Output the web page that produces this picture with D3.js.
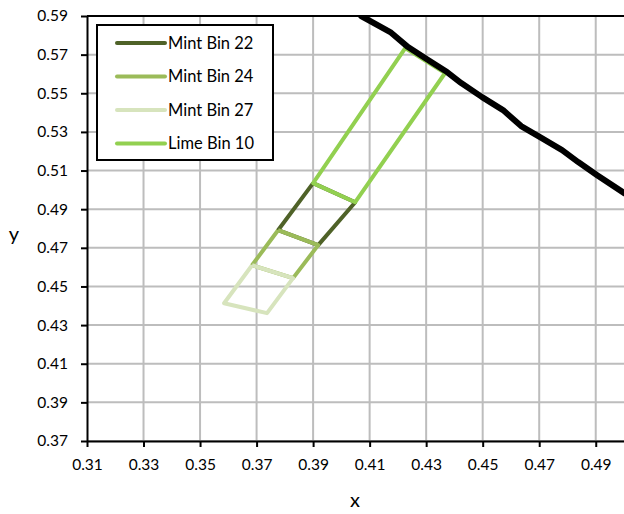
<!DOCTYPE html>
<html><head><meta charset="utf-8">
<script src="https://cdn.jsdelivr.net/npm/d3@7"></script>
<style>body{margin:0;background:#fff}svg{display:block}text{font-family:Lato,"Open Sans",sans-serif}</style>
</head><body><svg id="c" width="624" height="514"></svg>
<script>
const xTicks=[0.31,0.33,0.35,0.37,0.39,0.41,0.43,0.45,0.47,0.49];
const yTicks=[0.37,0.39,0.41,0.43,0.45,0.47,0.49,0.51,0.53,0.55,0.57,0.59];
const seriesNames=["Mint Bin 22","Mint Bin 24","Mint Bin 27","Lime Bin 10"];
const seriesColors=["#4F6228","#9BBB59","#D7E4BD","#92D050"];
const mint22=[[0.3900,0.5035],[0.4049,0.4936],[0.3918,0.4714],[0.3776,0.4791],[0.3900,0.5035]];
const mint24=[[0.3776,0.4791],[0.3918,0.4714],[0.3829,0.4543],[0.3684,0.4610],[0.3776,0.4791]];
const mint27=[[0.3684,0.4610],[0.3829,0.4543],[0.3737,0.4362],[0.3585,0.4413],[0.3684,0.4610]];
const lime10=[[0.4226,0.5734],[0.3900,0.5035],[0.4049,0.4936],[0.4367,0.5605],[0.4226,0.5734]];
const boundary=[[0.4070,0.5900],[0.4173,0.5817],[0.4236,0.5739],[0.4307,0.5672],[0.4374,0.5610],[0.4424,0.5553],[0.4498,0.5480],[0.4572,0.5413],[0.4636,0.5330],[0.4703,0.5273],[0.4781,0.5206],[0.4838,0.5144],[0.4905,0.5076],[0.5001,0.4983]];
const seriesData=[mint22,mint24,mint27,lime10];

const L=87,R=624,T=16,B=441;
const x=d3.scaleLinear().domain([0.31,0.50]).range([L,R]);
const y=d3.scaleLinear().domain([0.37,0.59]).range([B,T]);
const svg=d3.select("#c");
const fmt=d3.format(".2f");

svg.append("g").selectAll("line").data(xTicks.slice(1)).join("line")
  .attr("x1",d=>x(d)).attr("x2",d=>x(d)).attr("y1",T).attr("y2",B)
  .attr("stroke","#BDBDBD").attr("stroke-width",2);
svg.append("g").selectAll("line").data(yTicks.slice(0,-1)).join("line")
  .attr("x1",L).attr("x2",R).attr("y1",d=>y(d)).attr("y2",d=>y(d))
  .attr("stroke","#BDBDBD").attr("stroke-width",2);

svg.append("line").attr("x1",L).attr("x2",R).attr("y1",T).attr("y2",T).attr("stroke","#000").attr("stroke-width",2);

const xa=svg.append("g").attr("transform",`translate(0,${B})`)
  .call(d3.axisBottom(x).tickValues(xTicks).tickFormat(fmt).tickSize(6).tickPadding(12).tickSizeOuter(0));
const ya=svg.append("g").attr("transform",`translate(${L},0)`)
  .call(d3.axisLeft(y).tickValues(yTicks).tickFormat(fmt).tickSize(6).tickPadding(13).tickSizeOuter(0));
[xa,ya].forEach(a=>{
  a.select(".domain").attr("stroke","#000").attr("stroke-width",2);
  a.selectAll(".tick line").attr("stroke","#000").attr("stroke-width",2);
  a.selectAll("text").attr("font-size",15.5).attr("fill","#000");
});

svg.append("clipPath").attr("id","pc").append("rect").attr("x",L).attr("y",T).attr("width",R-L).attr("height",B-T);
const plot=svg.append("g").attr("clip-path","url(#pc)");
const line=d3.line().x(d=>x(d[0])).y(d=>y(d[1]));
seriesData.forEach((s,i)=>{
  plot.append("path").attr("d",line(s)).attr("fill","none")
    .attr("stroke",seriesColors[i]).attr("stroke-width",4).attr("stroke-linejoin","round");
});
plot.append("path").attr("d",line(boundary)).attr("fill","none")
  .attr("stroke","#000").attr("stroke-width",6).attr("stroke-linejoin","round").attr("stroke-linecap","round");

const lg=svg.append("g");
lg.append("rect").attr("x",97).attr("y",25).attr("width",176).attr("height",135)
  .attr("fill","#fff").attr("stroke","#000").attr("stroke-width",2);
seriesNames.forEach((n,i)=>{
  const yy=43+i*33.5;
  lg.append("line").attr("x1",117).attr("x2",165).attr("y1",yy).attr("y2",yy)
    .attr("stroke",seriesColors[i]).attr("stroke-width",4).attr("stroke-linecap","round");
  lg.append("text").attr("x",168).attr("y",yy+5.5).attr("font-size",16.5).text(n);
});

svg.append("text").attr("x",355).attr("y",507).attr("text-anchor","middle").attr("font-size",20).text("x");
svg.append("text").attr("x",14).attr("y",241).attr("text-anchor","middle").attr("font-size",20).text("y");
</script></body></html>
